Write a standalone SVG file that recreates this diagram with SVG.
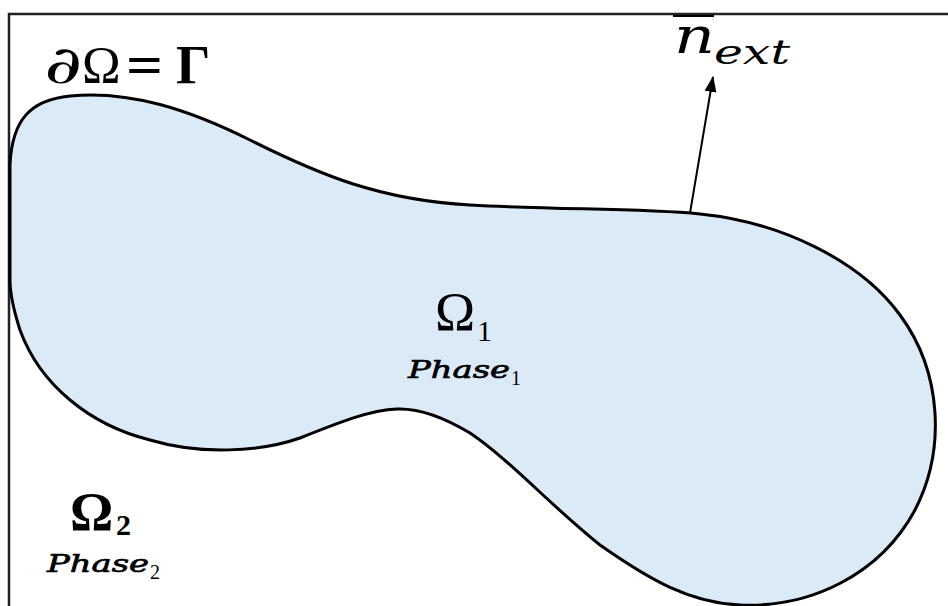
<svg xmlns="http://www.w3.org/2000/svg" width="948" height="606" viewBox="0 0 948 606">
<style>
.m{font-family:"Liberation Serif","DejaVu Serif",serif;fill:#000}
.d{font-family:"DejaVu Serif","Liberation Serif",serif;fill:#000;font-style:italic}
.b{font-weight:bold}
.ph{stroke:#000;stroke-width:0.7}
</style>
<defs>
<marker id="ah" markerWidth="16" markerHeight="12" refX="15" refY="6" orient="auto" markerUnits="userSpaceOnUse" viewBox="0 0 16 12">
<path d="M0,0 L16,6 L0,12 Z" fill="#000"/>
</marker>
</defs>
<rect width="948" height="606" fill="#fff"/>
<g id="frame">
<path d="M9,606 V14 H948" fill="none" stroke="#222" stroke-width="2.5"/>
</g>
<g id="domain">
<path d="M10,165 C12,120 30,100 70,96 C130,90 190,110 250,140 C320,175 380,200 470,205 C560,210 640,208 700,214 C780,222 860,260 900,315 C942,372 946,450 915,510 C880,575 810,608 740,605 C690,603 650,580 600,545 C550,505 510,460 470,433 C445,418 420,408 397,409 C370,410 340,422 300,438 C260,452 200,455 150,440 C90,425 40,385 20,330 C12,305 10,290 10,280 Z" fill="#dbeaf7" stroke="#000" stroke-width="3"/>
</g>
<g id="connectors">
<line x1="690" y1="213" x2="713" y2="77" stroke="#000" stroke-width="2" marker-end="url(#ah)"/>
</g>
<g id="label-boundary">
<text class="d" x="44" y="83" font-size="52" textLength="38" lengthAdjust="spacingAndGlyphs">∂</text>
<text class="m" x="82" y="83" font-size="52">Ω</text>
<text class="m b" x="126" y="84" font-size="56" textLength="37" lengthAdjust="spacingAndGlyphs">=</text>
<text class="m b" x="176" y="83" font-size="54">Γ</text>
</g>
<g id="label-normal">
<text class="d" x="674" y="53" font-size="50" textLength="41" lengthAdjust="spacingAndGlyphs">n</text>
<line x1="673" y1="16" x2="714" y2="16" stroke="#000" stroke-width="2"/>
<text class="d" x="714" y="64" font-size="33" textLength="76" lengthAdjust="spacingAndGlyphs">ext</text>
</g>
<g id="omega1">
<text class="m" x="435" y="330" font-size="54">Ω</text>
<text class="m" x="477" y="341" font-size="30">1</text>
<text class="d ph" x="408" y="378" font-size="25" textLength="102" lengthAdjust="spacingAndGlyphs">Phase</text>
<text class="m" x="511" y="385" font-size="20">1</text>
</g>
<g id="omega2">
<text class="m b" x="70" y="530" font-size="54">Ω</text>
<text class="m b" x="116" y="535" font-size="30">2</text>
<text class="d ph" x="47" y="572" font-size="25" textLength="102" lengthAdjust="spacingAndGlyphs">Phase</text>
<text class="m" x="150" y="579" font-size="20">2</text>
</g>
</svg>
